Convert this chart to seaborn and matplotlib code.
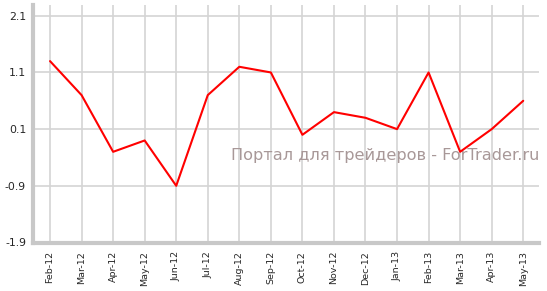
import matplotlib
matplotlib.use("Agg")
import matplotlib.pyplot as plt
import seaborn as sns
import pandas as pd

months = ["Feb-12", "Mar-12", "Apr-12", "May-12", "Jun-12", "Jul-12", "Aug-12", "Sep-12",
          "Oct-12", "Nov-12", "Dec-12", "Jan-13", "Feb-13", "Mar-13", "Apr-13", "May-13"]
values = [1.3, 0.7, -0.3, -0.1, -0.9, 0.7, 1.2, 1.1, 0.0, 0.4, 0.3, 0.1, 1.1, -0.3, 0.1, 0.6]
yticks = [-1.9, -0.9, 0.1, 1.1, 2.1]
watermark = "Портал для трейдеров - ForTrader.ru"

sns.set_style("white")
plt.rcParams['font.family'] = ['DejaVu Sans']

df = pd.DataFrame({"idx": range(len(months)), "value": values})

fig = plt.figure(figsize=(5.47, 2.91), dpi=100)
ax = fig.add_axes([33/547, 1-242.5/291, (539-33)/547, (242.5-5)/291])

sns.lineplot(data=df, x="idx", y="value", ax=ax, color="#ff0000", linewidth=1.5, zorder=3)

ax.set_xlim(-0.54, 15.5)
ax.set_ylim(-1.9, 2.29)
ax.set_xticks(range(len(months)))
ax.set_xticklabels(months, rotation=90, fontsize=6.8)
ax.set_yticks(yticks)
ax.set_yticklabels([f"{v:.1f}" for v in yticks], fontsize=7.8)
ax.set_xlabel("")
ax.set_ylabel("")

ax.grid(True, color="#d4d4d4", linewidth=1.2)
ax.set_axisbelow(True)
for s in ["top", "right"]:
    ax.spines[s].set_visible(False)
for s in ["left", "bottom"]:
    ax.spines[s].set_color("#c8c8c8")
    ax.spines[s].set_linewidth(3)
ax.tick_params(axis="x", length=4, width=1.2, color="#d0d0d0", pad=2)
ax.tick_params(axis="y", length=3, width=1.2, color="#c8c8c8", pad=2)

ax.text(1.0, 0.365, watermark, transform=ax.transAxes, ha="right", va="center",
        fontsize=11.6, color="#a89898", zorder=2)

fig.savefig("out.png", dpi=100)
